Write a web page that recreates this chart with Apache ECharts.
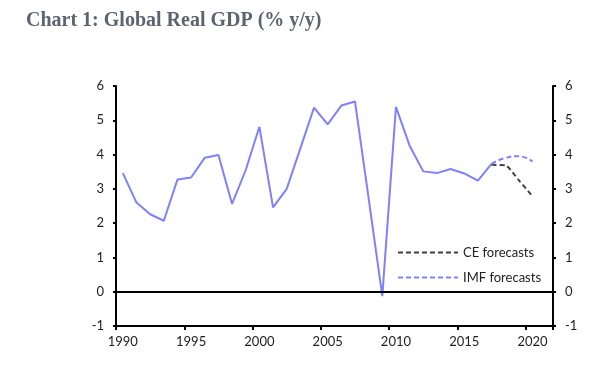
<!DOCTYPE html>
<html>
<head>
<meta charset="utf-8">
<script src="https://cdn.jsdelivr.net/npm/echarts@6/dist/echarts.min.js"></script>
<style>
html,body{margin:0;padding:0;background:#fff;}
#chart{width:592px;height:369px;}
</style>
</head>
<body>
<div id="chart"></div>
<script>
const years = ['1990','1991','1992','1993','1994','1995','1996','1997','1998','1999','2000','2001','2002','2003','2004','2005','2006','2007','2008','2009','2010','2011','2012','2013','2014','2015','2016','2017','2018','2019','2020','2021'];
const actual = [3.46,2.60,2.26,2.07,3.27,3.33,3.91,3.99,2.56,3.55,4.81,2.46,3.00,4.18,5.37,4.88,5.43,5.55,2.72,-0.13,5.39,4.26,3.51,3.46,3.58,3.45,3.24,3.73,null,null,null,null];
const ceForecast = [null,null,null,null,null,null,null,null,null,null,null,null,null,null,null,null,null,null,null,null,null,null,null,null,null,null,null,3.70,3.69,3.25,2.78,null];
const imfForecast = [null,null,null,null,null,null,null,null,null,null,null,null,null,null,null,null,null,null,null,null,null,null,null,null,null,null,null,3.73,3.90,3.95,3.80,null];
const titleText = 'Chart 1: Global Real GDP (% y/y)';

const chart = echarts.init(document.getElementById('chart'), null, {renderer:'canvas'});
const labelFont = {fontFamily:'Lato', fontSize:13, color:'#222'};
const yAxisBase = {
  type:'value', min:-1, max:6, interval:1,
  axisLine:{show:true, lineStyle:{color:'#000', width:2}},
  axisTick:{show:true, length:3, lineStyle:{color:'#000', width:2}},
  splitLine:{show:false},
  axisLabel:Object.assign({margin:12}, labelFont)
};
chart.setOption({
  animation:false,
  backgroundColor:'#fff',
  title:{text:titleText, left:21, top:6,
    textStyle:{fontFamily:'Liberation Serif', fontWeight:'bold', fontSize:20, color:'#5e6370'}},
  grid:{left:116, right:39, top:86, bottom:43},
  legend:{
    orient:'vertical', left:392, top:241, itemWidth:60, itemHeight:12, itemGap:12,
    data:['CE forecasts','IMF forecasts'],
    itemStyle:{opacity:0, borderWidth:0},
    textStyle:{fontFamily:'Lato', fontSize:13, color:'#222'}
  },
  xAxis:{
    type:'category', data:years, boundaryGap:true,
    axisLine:{onZero:false, lineStyle:{color:'#000', width:2}},
    axisTick:{show:true, length:4, alignWithLabel:false, interval:(i)=>i%5===0, lineStyle:{color:'#000', width:2}},
    axisLabel:Object.assign({margin:9, interval:(i)=>i%5===0}, labelFont)
  },
  yAxis:[
    Object.assign({position:'left'}, yAxisBase),
    Object.assign({position:'right'}, yAxisBase)
  ],
  series:[
    {name:'Actual', type:'line', data:actual, symbol:'none', lineStyle:{color:'#8080ff', width:2}, itemStyle:{color:'#8080ff'},
     markLine:{silent:true, symbol:'none', label:{show:false}, lineStyle:{color:'#000', width:2, type:'solid'}, data:[{yAxis:0}]}},
    {name:'CE forecasts', type:'line', data:ceForecast, symbol:'none', smooth:0.2, z:3,
     lineStyle:{color:'#404040', width:2, type:[5,3]}, itemStyle:{color:'#404040'}},
    {name:'IMF forecasts', type:'line', data:imfForecast, symbol:'none', smooth:0.5, z:3,
     lineStyle:{color:'#8080ff', width:2, type:[5,3]}, itemStyle:{color:'#8080ff'}}
  ]
});
</script>
</body>
</html>
